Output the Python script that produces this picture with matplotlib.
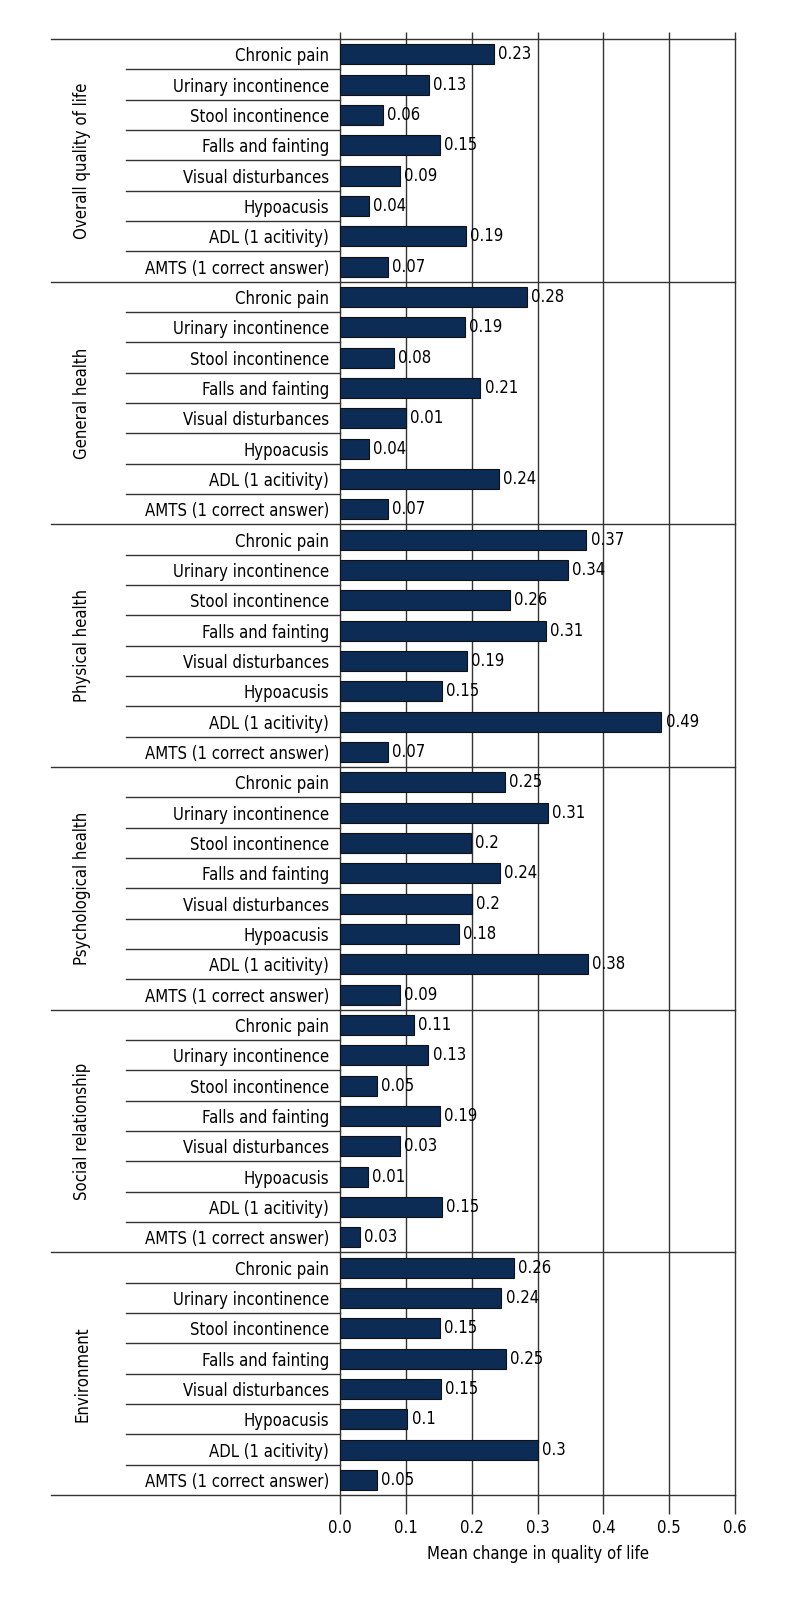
import matplotlib
matplotlib.use("Agg")
import matplotlib.pyplot as plt

groups = ["Overall quality of life", "General health", "Physical health",
          "Psychological health", "Social relationship", "Environment"]
items = ["Chronic pain", "Urinary incontinence", "Stool incontinence",
         "Falls and fainting", "Visual disturbances", "Hypoacusis",
         "ADL (1 acitivity)", "AMTS (1 correct answer)"]

# bar lengths
overall = [0.233, 0.135, 0.065, 0.152, 0.091, 0.043, 0.191, 0.072]
general = [0.284, 0.190, 0.081, 0.213, 0.100, 0.044, 0.241, 0.072]
physical = [0.374, 0.346, 0.258, 0.312, 0.193, 0.154, 0.488, 0.072]
psych = [0.250, 0.316, 0.199, 0.243, 0.200, 0.180, 0.376, 0.091]
social = [0.112, 0.134, 0.056, 0.152, 0.090, 0.042, 0.154, 0.030]
environment = [0.264, 0.245, 0.151, 0.252, 0.153, 0.102, 0.300, 0.055]

# printed value labels
overall_lbl = ["0.23", "0.13", "0.06", "0.15", "0.09", "0.04", "0.19", "0.07"]
general_lbl = ["0.28", "0.19", "0.08", "0.21", "0.01", "0.04", "0.24", "0.07"]
physical_lbl = ["0.37", "0.34", "0.26", "0.31", "0.19", "0.15", "0.49", "0.07"]
psych_lbl = ["0.25", "0.31", "0.2", "0.24", "0.2", "0.18", "0.38", "0.09"]
social_lbl = ["0.11", "0.13", "0.05", "0.19", "0.03", "0.01", "0.15", "0.03"]
environment_lbl = ["0.26", "0.24", "0.15", "0.25", "0.15", "0.1", "0.3", "0.05"]

x_ticks = [0.0, 0.1, 0.2, 0.3, 0.4, 0.5, 0.6]
x_tick_labels = ["0.0", "0.1", "0.2", "0.3", "0.4", "0.5", "0.6"]

all_values = [overall, general, physical, psych, social, environment]
all_labels = [overall_lbl, general_lbl, physical_lbl, psych_lbl, social_lbl, environment_lbl]

plt.rcParams['font.family'] = ['DejaVu Sans']
plt.rcParams['font.stretch'] = 'condensed'
fs = 12
bar_color = '#0c2b55'
line_color = '#333333'

fig = plt.figure(figsize=(8, 16), dpi=100)
ax = fig.add_axes([0.4254, 0.0656, 0.4934, 0.91])

n_items = len(items)
n_rows = len(groups) * n_items
ytr = ax.get_yaxis_transform()

tick_pos = []
tick_lbl = []
for g, (vals, lbls) in enumerate(zip(all_values, all_labels)):
    for i, (v, t) in enumerate(zip(vals, lbls)):
        y = g * n_items + i + 0.5
        ax.barh(y, v, height=0.66, color=bar_color, edgecolor='#111111', linewidth=0.8, zorder=3)
        ax.annotate(t, (v, y), xytext=(3, 0), textcoords='offset points',
                    va='center', ha='left', fontsize=fs, zorder=4)
        tick_pos.append(y)
        tick_lbl.append(items[i])
        if i > 0:
            ax.plot([-0.543, 0], [g * n_items + i] * 2, transform=ytr,
                    color=line_color, lw=1.0, clip_on=False)
    ax.text(-0.654, g * n_items + n_items / 2, groups[g], transform=ytr,
            rotation=90, ha='center', va='center', fontsize=fs)

for g in range(len(groups) + 1):
    ax.plot([-0.733, 1], [g * n_items] * 2, transform=ytr,
            color=line_color, lw=1.0, clip_on=False, zorder=2)

for xv in x_ticks[1:]:
    ax.axvline(xv, color=line_color, lw=1.0, zorder=1, clip_on=False)

ax.set_xlim(0, 0.6)
ax.set_ylim(n_rows, 0)
ax.set_yticks(tick_pos)
ax.set_yticklabels(tick_lbl, fontsize=fs)
ax.tick_params(axis='y', length=0, pad=8)
ax.set_xticks(x_ticks)
ax.set_xticklabels(x_tick_labels, fontsize=fs)
ax.tick_params(axis='x', length=14, width=1.0, color=line_color, pad=3, top=True)
for tk in ax.xaxis.get_major_ticks():
    tk.tick2line.set_markersize(5)
ax.set_xlabel("Mean change in quality of life", fontsize=fs, labelpad=6)

for s in ['top', 'right', 'bottom']:
    ax.spines[s].set_visible(False)
ax.spines['left'].set_color(line_color)
ax.spines['left'].set_linewidth(1.0)

fig.savefig("out.png", dpi=100)
